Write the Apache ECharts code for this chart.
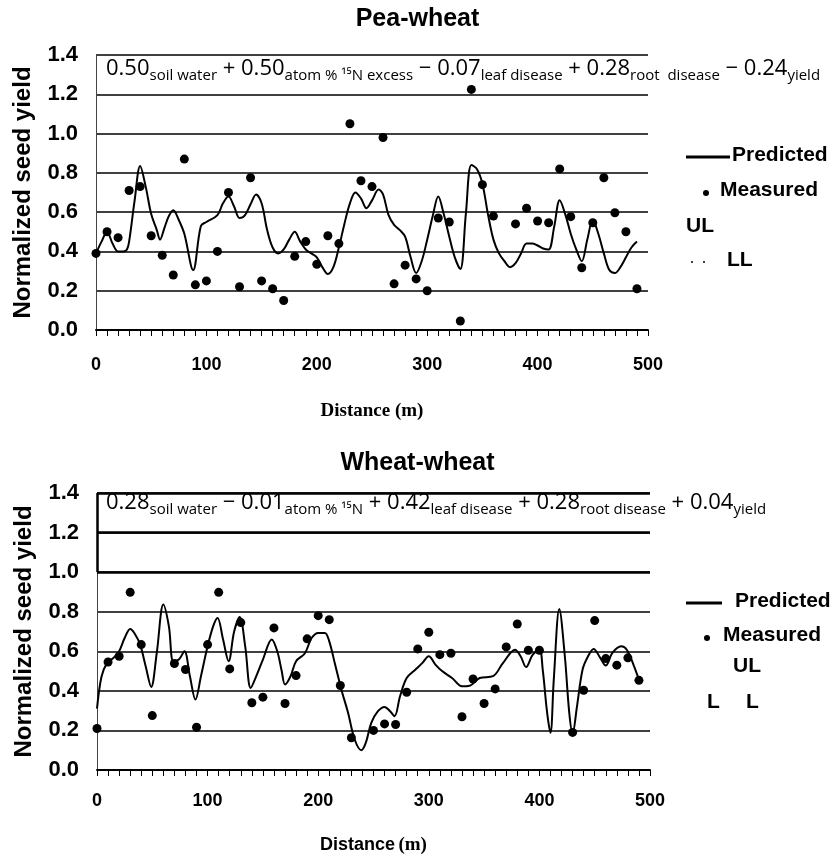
<!DOCTYPE html>
<html><head><meta charset="utf-8">
<script src="https://cdn.jsdelivr.net/npm/echarts@6/dist/echarts.min.js"></script>
<style>html,body{margin:0;padding:0;background:#fff}#c{width:835px;height:866px}</style>
</head><body><div id="c"></div>
<script>
// ---------- Pea-wheat ----------
const peaMeasDist = [0,10,20,30,40,50,60,70,80,90,100,110,120,130,140,150,160,170,180,190,200,210,220,230,240,250,260,270,280,290,300,310,320,330,340,350,360,380,390,400,410,420,430,440,450,460,470,480,490];
const peaMeasVal  = [0.39,0.50,0.47,0.71,0.73,0.48,0.38,0.28,0.87,0.23,0.25,0.40,0.70,0.22,0.775,0.25,0.21,0.15,0.375,0.45,0.335,0.48,0.44,1.05,0.76,0.73,0.98,0.235,0.33,0.26,0.20,0.57,0.55,0.046,1.225,0.74,0.58,0.54,0.62,0.555,0.546,0.82,0.577,0.317,0.546,0.775,0.597,0.50,0.21];
const peaPredDist = [0,5,10,15,20,25,28,30,35,40,45,50,55,58,62,66,70,75,80,88,95,100,110,115,120,125,130,135,140,145,150,155,160,165,170,175,180,185,190,195,200,205,210,215,220,225,230,235,240,245,250,256,260,265,270,275,280,285,290,295,300,305,310,315,320,325,330,335,340,345,350,355,360,365,370,375,380,385,390,395,400,405,410,415,420,425,430,435,440,445,450,455,460,465,470,475,480,485,490];
const peaPredVal  = [0.39,0.45,0.50,0.44,0.40,0.40,0.41,0.45,0.66,0.835,0.73,0.59,0.51,0.46,0.52,0.58,0.61,0.56,0.49,0.305,0.53,0.55,0.585,0.645,0.68,0.63,0.57,0.585,0.64,0.69,0.645,0.51,0.42,0.39,0.41,0.46,0.50,0.45,0.41,0.39,0.37,0.32,0.285,0.32,0.42,0.54,0.645,0.70,0.67,0.62,0.66,0.715,0.69,0.585,0.535,0.51,0.475,0.37,0.29,0.35,0.46,0.58,0.68,0.59,0.475,0.37,0.31,0.59,0.84,0.82,0.745,0.59,0.46,0.39,0.35,0.32,0.34,0.39,0.44,0.44,0.43,0.415,0.41,0.525,0.66,0.59,0.49,0.41,0.35,0.46,0.56,0.49,0.39,0.305,0.29,0.32,0.37,0.42,0.45];

// ---------- Wheat-wheat ----------
const whtMeasDist = [0,10,20,30,40,50,70,80,90,100,110,120,130,140,150,160,170,180,190,200,210,220,230,250,260,270,280,290,300,310,320,330,340,350,360,370,380,390,400,430,440,450,460,470,480,490];
const whtMeasVal  = [0.21,0.546,0.575,0.898,0.634,0.275,0.538,0.508,0.216,0.634,0.898,0.511,0.745,0.34,0.368,0.718,0.336,0.477,0.663,0.78,0.76,0.427,0.163,0.20,0.233,0.23,0.393,0.612,0.696,0.583,0.59,0.269,0.46,0.336,0.41,0.622,0.738,0.605,0.605,0.19,0.403,0.755,0.563,0.53,0.567,0.453];
const whtPredDist = [0,4,9,15,20,25,30,34,39,44,49,54,60,65,69,74,79,84,89,94,100,105,109,114,119,124,129,134,139,144,150,158,163,167,170,175,180,188,194,200,206,210,215,221,227,233,239,243,248,254,260,265,269,274,280,288,294,300,306,312,321,330,337,346,358,367,378,383,388,394,400,403,407,410,413,418,423,427,430,434,439,444,449,455,460,466,474,479,485,491];
const whtPredVal  = [0.31,0.47,0.54,0.567,0.60,0.667,0.713,0.69,0.634,0.524,0.42,0.59,0.836,0.726,0.55,0.558,0.60,0.474,0.356,0.474,0.625,0.726,0.768,0.659,0.55,0.70,0.773,0.625,0.415,0.474,0.558,0.66,0.60,0.50,0.432,0.474,0.55,0.59,0.667,0.693,0.693,0.65,0.54,0.406,0.289,0.154,0.10,0.137,0.238,0.297,0.319,0.297,0.272,0.373,0.465,0.508,0.54,0.575,0.533,0.50,0.465,0.423,0.426,0.465,0.474,0.54,0.608,0.575,0.52,0.583,0.608,0.507,0.289,0.188,0.457,0.814,0.575,0.289,0.184,0.322,0.507,0.575,0.612,0.567,0.528,0.592,0.625,0.608,0.533,0.44];

const yTicks = [0,0.2,0.4,0.6,0.8,1.0,1.2,1.4];
const xTickLabels = ['0','100','200','300','400','500'];
const whtBoxLevels = [1.0,1.2,1.4];

const zip = (a,b) => a.map((d,i)=>[d,b[i]]);
const SANS = 'Liberation Sans';
const SERIF = 'Liberation Serif';

function xAxis(gi, nameRich){
  return {
    type:'value', gridIndex:gi, min:0, max:500, interval:100,
    axisLine:{show:true,onZero:false,lineStyle:{color:'#000',width:2}},
    axisTick:{show:true,inside:false,length:6,lineStyle:{color:'#000',width:1}},
    minorTick:{show:true,splitNumber:10,length:6,lineStyle:{color:'#000',width:1}},
    splitLine:{show:false},
    axisLabel:{margin:nameRich.lm,color:'#000',fontFamily:SANS,fontWeight:'bold',fontSize:18,
      formatter:v=>xTickLabels[Math.round(v/100)]},
    name: nameRich.text, nameLocation:'middle', nameGap: nameRich.gap,
    nameTextStyle: nameRich.style
  };
}
function yAxis(gi){
  return {
    type:'value', gridIndex:gi, min:0, max:1.4, interval:0.2,
    axisLine:{show:true,lineStyle:{color:'#444',width:1}},
    axisTick:{show:false},
    splitLine:{show:true,lineStyle:{color:'#000',width:1.5}},
    axisLabel:{margin:18,color:'#000',fontFamily:SANS,fontWeight:'bold',fontSize:22,
      formatter:v=>yTicks.reduce((p,t)=>Math.abs(t-v)<1e-6?t.toFixed(1):p,'')},
    name:'Normalized seed yield', nameLocation:'middle', nameGap:61,
    nameTextStyle:{color:'#000',fontFamily:SANS,fontWeight:'bold',fontSize:24}
  };
}

const eqStyle = {
  n:{fontFamily:'Open Sans',fontSize:22,color:'#000',verticalAlign:'bottom'},
  s:{fontFamily:'Open Sans',fontSize:15,color:'#000',verticalAlign:'bottom',padding:[0,0,-3,0]}
};
const LF = 'bold 21px "Liberation Sans"';

const boxMarkLines = whtBoxLevels.map(v=>({yAxis:v})).concat([[{coord:[0,whtBoxLevels[0]]},{coord:[0,whtBoxLevels[2]]}]]);

const option = {
  animation:false,
  backgroundColor:'#fff',
  title:[
    {text:'Pea-wheat',left:'center',top:2,textStyle:{fontFamily:SANS,fontWeight:'bold',fontSize:25,color:'#000'}},
    {text:'Wheat-wheat',left:'center',top:446,textStyle:{fontFamily:SANS,fontWeight:'bold',fontSize:25,color:'#000'}}
  ],
  grid:[
    {left:96,right:187,top:55,bottom:536},
    {left:97,right:185,top:493,bottom:96}
  ],
  xAxis:[
    xAxis(0,{lm:26,text:'Distance (m)',gap:72,style:{color:'#000',fontFamily:SERIF,fontWeight:'bold',fontSize:19}}),
    xAxis(1,{lm:22,text:'{a|Distance} {b|(m)}',gap:66,style:{rich:{a:{color:'#000',fontFamily:SANS,fontWeight:'bold',fontSize:18},b:{color:'#000',fontFamily:SERIF,fontWeight:'bold',fontSize:19}}}})
  ],
  yAxis:[yAxis(0),yAxis(1)],
  series:[
    {name:'Predicted',type:'line',xAxisIndex:0,yAxisIndex:0,data:zip(peaPredDist,peaPredVal),smooth:0.35,symbol:'none',lineStyle:{color:'#000',width:2},z:3},
    {name:'Measured',type:'scatter',xAxisIndex:0,yAxisIndex:0,data:zip(peaMeasDist,peaMeasVal),symbolSize:9,itemStyle:{color:'#000',opacity:1},z:4},
    {name:'Predicted',type:'line',xAxisIndex:1,yAxisIndex:1,data:zip(whtPredDist,whtPredVal),smooth:0.35,symbol:'none',lineStyle:{color:'#000',width:2},z:3,
      markLine:{silent:true,symbol:'none',label:{show:false},lineStyle:{color:'#000',width:2.5,type:'solid'},data:boxMarkLines}},
    {name:'Measured',type:'scatter',xAxisIndex:1,yAxisIndex:1,data:zip(whtMeasDist,whtMeasVal),symbolSize:9,itemStyle:{color:'#000',opacity:1},z:4}
  ],
  graphic:[
    {type:'text',left:106,top:58,style:{text:'{n|0.50}{s|soil water}{n| + 0.50}{s|atom % ¹⁵N excess}{n| − 0.07}{s|leaf disease}{n| + 0.28}{s|root  disease}{n| − 0.24}{s|yield}',rich:eqStyle}},
    {type:'text',left:106,top:492,style:{text:'{n|0.28}{s|soil water}{n| − 0.01}{s|atom % ¹⁵N}{n| + 0.42}{s|leaf disease}{n| + 0.28}{s|root disease}{n| + 0.04}{s|yield}',rich:eqStyle}},
    // legend top
    {type:'line',shape:{x1:686,y1:157,x2:730,y2:157},style:{stroke:'#000',lineWidth:3}},
    {type:'text',left:732,top:145,style:{text:'Predicted',font:LF,fill:'#000'}},
    {type:'circle',shape:{cx:706,cy:193,r:3},style:{fill:'#000'}},
    {type:'text',left:720,top:180,style:{text:'Measured',font:LF,fill:'#000'}},
    {type:'text',left:686,top:216,style:{text:'UL',font:LF,fill:'#000'}},
    {type:'circle',shape:{cx:692,cy:262,r:1},style:{fill:'#000'}},
    {type:'circle',shape:{cx:704,cy:262,r:1},style:{fill:'#000'}},
    {type:'text',left:727,top:250,style:{text:'LL',font:LF,fill:'#000'}},
    // legend bottom
    {type:'line',shape:{x1:686,y1:603,x2:722,y2:603},style:{stroke:'#000',lineWidth:3}},
    {type:'text',left:735,top:591,style:{text:'Predicted',font:LF,fill:'#000'}},
    {type:'circle',shape:{cx:707,cy:638,r:3},style:{fill:'#000'}},
    {type:'text',left:723,top:625,style:{text:'Measured',font:LF,fill:'#000'}},
    {type:'text',left:733,top:656,style:{text:'UL',font:LF,fill:'#000'}},
    {type:'text',left:707,top:692,style:{text:'L',font:LF,fill:'#000'}},
    {type:'text',left:746,top:692,style:{text:'L',font:LF,fill:'#000'}}
  ]
};
const chart = echarts.init(document.getElementById('c'),null,{renderer:'canvas'});
chart.setOption(option);
</script></body></html>
